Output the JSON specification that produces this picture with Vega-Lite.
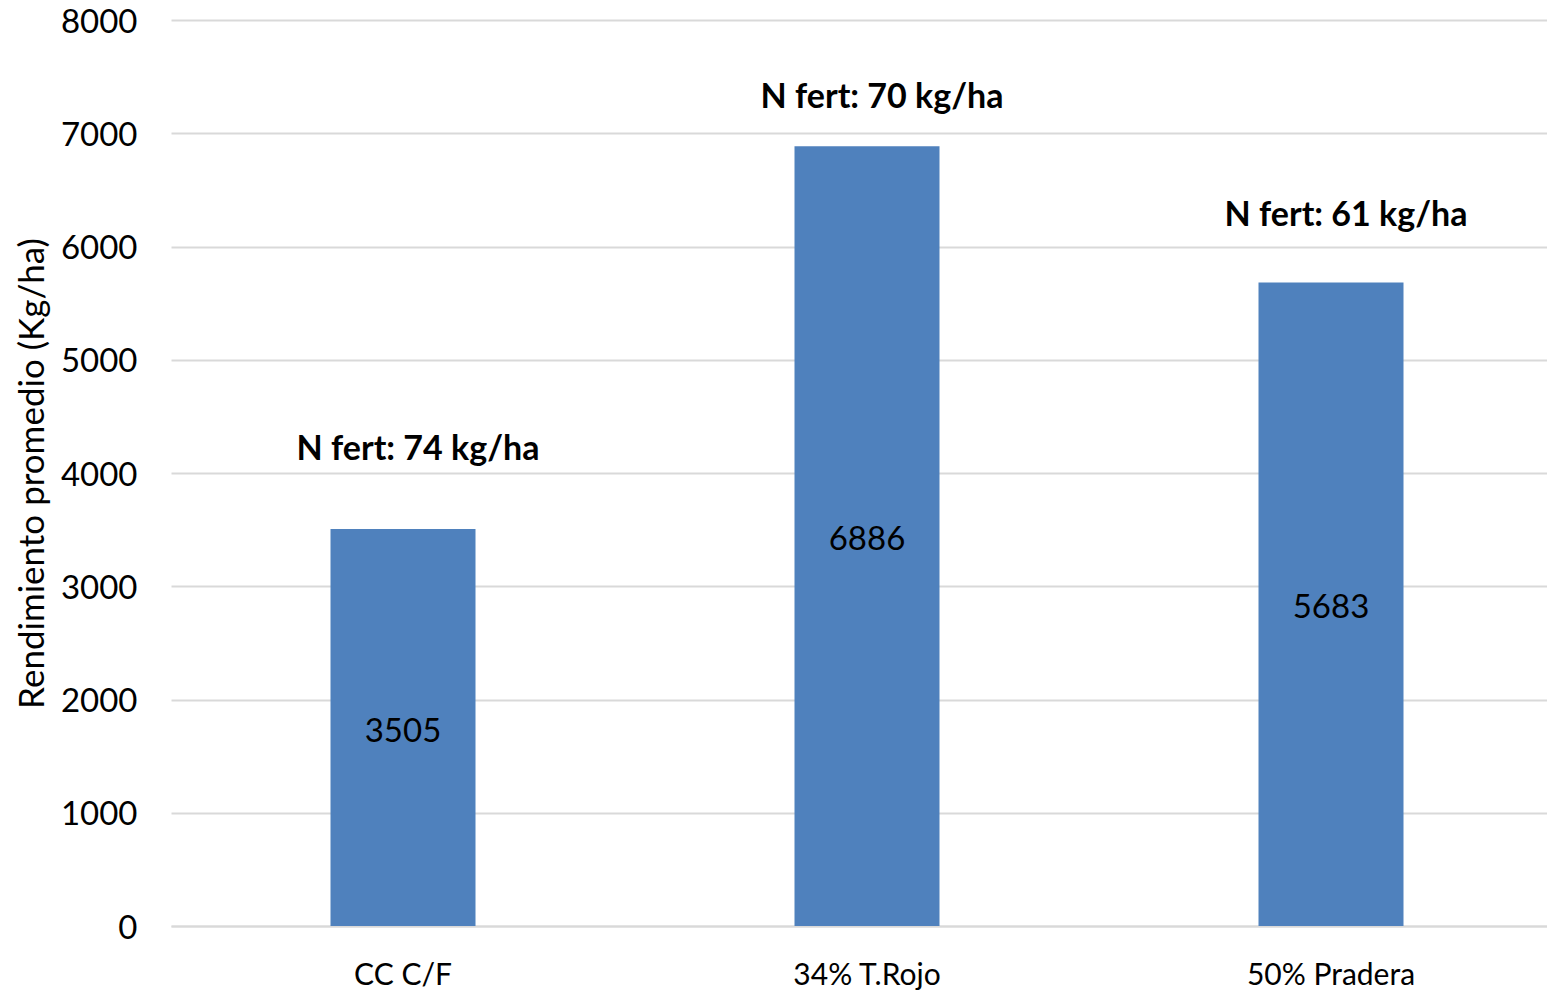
{
  "$schema": "https://vega.github.io/schema/vega-lite/v6.json",
  "width": 1376,
  "height": 906,
  "autosize": {"type": "none"},
  "padding": {"left": 171, "top": 20, "right": 0, "bottom": 68},
  "background": "white",
  "config": {
    "view": {"stroke": null},
    "font": "Lato",
    "axis": {"labelFont": "Lato", "titleFont": "Lato"}
  },
  "data": {
    "values": [
      {"tratamiento": "CC C/F", "rendimiento": 3505, "nfert": "N fert: 74 kg/ha", "nfert_pos": 4203},
      {"tratamiento": "34% T.Rojo", "rendimiento": 6886, "nfert": "N fert: 70 kg/ha", "nfert_pos": 7311},
      {"tratamiento": "50% Pradera", "rendimiento": 5683, "nfert": "N fert: 61 kg/ha", "nfert_pos": 6269}
    ]
  },
  "encoding": {
    "x": {
      "field": "tratamiento",
      "type": "nominal",
      "sort": null,
      "scale": {"range": [0, 1392], "paddingInner": 0.6875, "paddingOuter": 0.34375},
      "axis": {
        "title": null,
        "labelAngle": 0,
        "labelFontSize": 30,
        "labelColor": "#000000",
        "labelPadding": 34,
        "ticks": false,
        "domainColor": "#D9D9D9",
        "domainWidth": 2,
        "grid": false
      }
    }
  },
  "layer": [
    {
      "mark": {"type": "bar", "color": "#4F81BD"},
      "encoding": {
        "y": {
          "field": "rendimiento",
          "type": "quantitative",
          "scale": {"domain": [0, 8000], "nice": false},
          "axis": {
            "title": "Rendimiento promedio (Kg/ha)",
            "titleFontSize": 35,
            "titleFontWeight": "normal",
            "titleColor": "#000000",
            "titlePadding": 10,
            "format": "d",
            "values": [0, 1000, 2000, 3000, 4000, 5000, 6000, 7000, 8000],
            "labelFontSize": 33,
            "labelColor": "#000000",
            "labelPadding": 34,
            "labelOffset": 2,
            "labelBound": false,
            "ticks": false,
            "domain": false,
            "grid": true,
            "gridColor": "#D9D9D9",
            "gridWidth": 2
          }
        }
      }
    },
    {
      "transform": [{"calculate": "datum.rendimiento / 2", "as": "mitad"}],
      "mark": {"type": "text", "fontSize": 33, "color": "#000000", "baseline": "middle", "align": "center", "dy": 4},
      "encoding": {
        "y": {"field": "mitad", "type": "quantitative"},
        "text": {"field": "rendimiento", "type": "quantitative", "format": "d"}
      }
    },
    {
      "mark": {"type": "text", "fontSize": 34, "fontWeight": "bold", "color": "#000000", "baseline": "middle", "align": "center", "dx": 15},
      "encoding": {
        "y": {"field": "nfert_pos", "type": "quantitative"},
        "text": {"field": "nfert", "type": "nominal"}
      }
    }
  ]
}
